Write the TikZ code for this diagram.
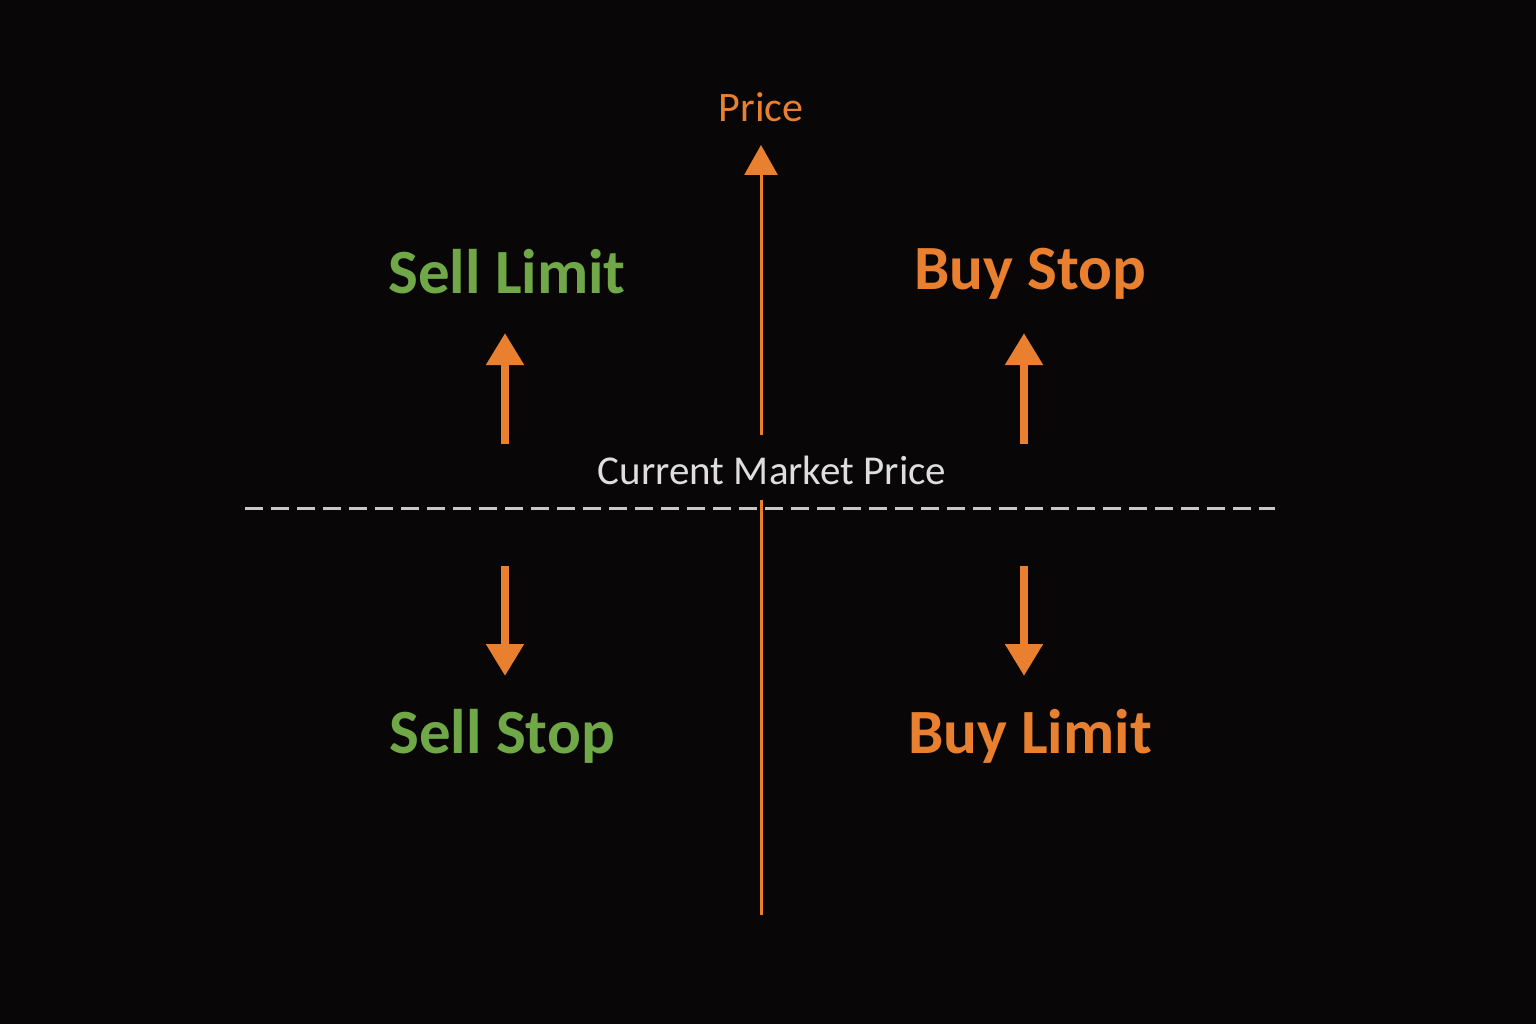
\documentclass[tikz,border=0pt]{standalone}
\usepackage{fontspec}
\setmainfont{Carlito}
\usetikzlibrary{arrows.meta}
\definecolor{bgc}{RGB}{8,6,6}
\definecolor{orng}{RGB}{232,128,48}
\definecolor{grn}{RGB}{112,168,72}
\definecolor{lgray}{RGB}{222,222,222}
\definecolor{dgray}{RGB}{200,200,200}
\begin{document}
\begin{tikzpicture}[x=1pt,y=-1pt,
  lbl/.style={font=\fontsize{63}{70}\selectfont\bfseries, inner sep=0pt, anchor=center},
  axis/.style={draw=orng, line width=3pt},
  small/.style={draw=orng, line width=8pt, -{Triangle[length=32pt, width=36pt]}}]
\fill[bgc] (0,0) rectangle (1536,1024);
\useasboundingbox (0,0) rectangle (1536,1024);
% labels
\node[text=orng, font=\fontsize{42}{48}\selectfont, inner sep=0pt] (price) at (761,107) {Price};
\node[text=lgray, font=\fontsize{41}{48}\selectfont, inner sep=0pt] (cmp) at (772,470) {Current Market Price};
\node[lbl, text=grn] (sl) at (507,272) {Sell Limit};
\node[lbl, text=orng] (bs) at (1030,274) {Buy Stop};
\node[lbl, text=grn] (ss) at (502,736) {Sell Stop};
\node[lbl, text=orng] (bl) at (1030,736) {Buy Limit};
% axis
\coordinate (axtop) at (761,145);
\coordinate (axmid1) at (761,435);
\coordinate (axmid2) at (761,500);
\coordinate (axbot) at (761,915);
\draw[axis, -{Triangle[length=30pt, width=33pt]}] (axmid1) -- (axtop);
\draw[axis] (axmid2) -- (axbot);
% dashed market line
\coordinate (dl) at (245,508);
\coordinate (dr) at (1275,508);
\draw[dgray, line width=3pt, dash pattern=on 18pt off 8pt] (dl) -- (dr);
% small arrows
\coordinate (a1s) at (505,444);
\coordinate (a1e) at (505,333);
\coordinate (a2s) at (1024,444);
\coordinate (a2e) at (1024,333);
\coordinate (a3s) at (505,566);
\coordinate (a3e) at (505,676);
\coordinate (a4s) at (1024,566);
\coordinate (a4e) at (1024,676);
\draw[small] (a1s) -- (a1e);
\draw[small] (a2s) -- (a2e);
\draw[small] (a3s) -- (a3e);
\draw[small] (a4s) -- (a4e);
\end{tikzpicture}
\end{document}
